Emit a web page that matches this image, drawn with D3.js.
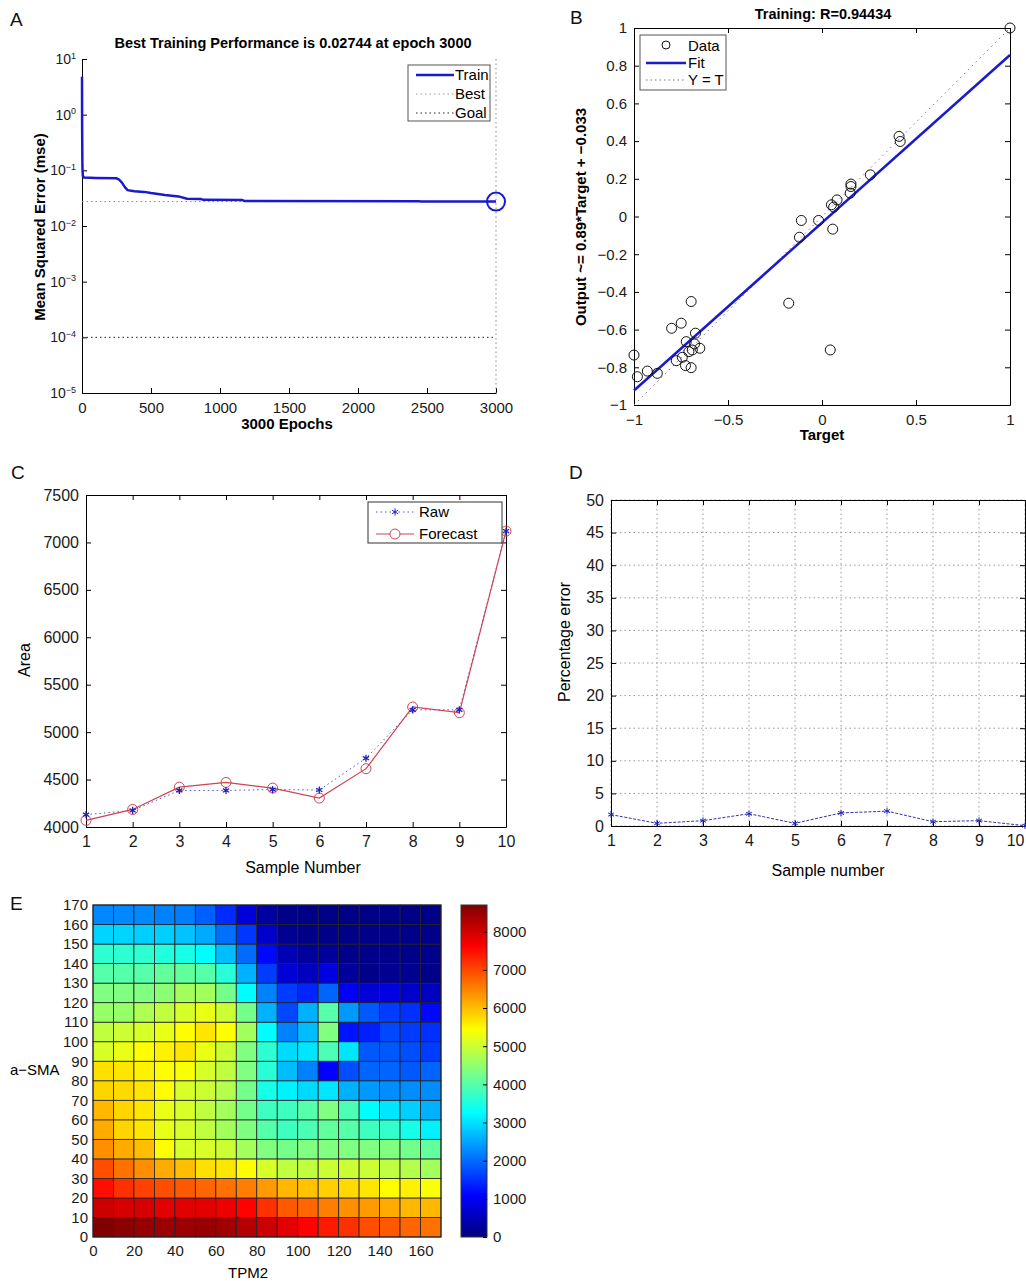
<!DOCTYPE html>
<html>
<head>
<meta charset="utf-8">
<script src="https://cdn.jsdelivr.net/npm/d3@7"></script>
<style>
body{margin:0;background:#fff;}
svg{font-family:"Liberation Sans",Arial,sans-serif;}
.tick text{font-size:15px;fill:#1a1a1a;}
.domain{stroke:#000;}
.tick line{stroke:#000;}
</style>
</head>
<body>
<svg id="fig" width="1026" height="1281"></svg>
<script>
// ---------- A: training performance ----------
const epochs   = [0, 1, 3, 6, 15, 100, 250, 270, 290, 310, 330, 380, 450, 500, 600, 700, 760, 860, 880, 1160, 1180, 2440, 2460, 3000];
const trainMse = [4.8, 0.6, 0.12, 0.08, 0.074, 0.073, 0.072, 0.068, 0.06, 0.05, 0.044, 0.042, 0.041, 0.039, 0.036, 0.034, 0.031, 0.0305, 0.0295, 0.0293, 0.028, 0.0279, 0.0275, 0.02744];
const bestMse = 0.02744, bestEpoch = 3000, goalMse = 1e-4;
const mseTicks = [1e-5, 1e-4, 1e-3, 1e-2, 1e-1, 1, 10];
const epochTicks = [0, 500, 1000, 1500, 2000, 2500, 3000];

// ---------- B: regression ----------
const regTarget = [1.0, 0.41, 0.416, 0.257, 0.154, 0.154, 0.150, 0.08, 0.05, 0.062, 0.057, -0.018, -0.11, -0.12, -0.177, 0.044,
  -0.696, -0.749, -0.80, -0.673, -0.722, -0.678, -0.65, -0.708, -0.69, -0.743, -0.775, -0.726, -0.696, -1.0, -0.982, -0.929, -0.876];
const regOutput = [1.0, 0.425, 0.398, 0.221, 0.172, 0.159, 0.124, 0.088, 0.062, 0.05, -0.067, -0.021, -0.021, -0.11, -0.46, -0.708,
  -0.451, -0.566, -0.593, -0.619, -0.664, -0.676, -0.699, -0.717, -0.708, -0.747, -0.765, -0.791, -0.802, -0.735, -0.85, -0.82, -0.832];
const fitSlope = 0.89, fitIntercept = -0.033;
const targetTicks = [-1, -0.5, 0, 0.5, 1];
const outputTicks = [-1, -0.8, -0.6, -0.4, -0.2, 0, 0.2, 0.4, 0.6, 0.8, 1];

// ---------- C / D: forecast ----------
const samples = [1, 2, 3, 4, 5, 6, 7, 8, 9, 10];
const rawArea      = [4130, 4175, 4385, 4385, 4395, 4390, 4725, 5235, 5235, 7120];
const forecastArea = [4070, 4185, 4420, 4470, 4410, 4305, 4615, 5265, 5205, 7120];
const areaTicks = [4000, 4500, 5000, 5500, 6000, 6500, 7000, 7500];
const pctError = [1.75, 0.41, 0.82, 1.88, 0.41, 2.0, 2.28, 0.66, 0.82, 0.05];
const pctTicks = [0, 5, 10, 15, 20, 25, 30, 35, 40, 45, 50];

// ---------- E: surface ----------
const tpmLevels = [0, 10, 20, 30, 40, 50, 60, 70, 80, 90, 100, 110, 120, 130, 140, 150, 160];
const smaLevels = [0, 10, 20, 30, 40, 50, 60, 70, 80, 90, 100, 110, 120, 130, 140, 150, 160];
// one row per a-SMA level (0 first), one value per TPM2 level
const heatRows = [
  [8700,8600,8500,8450,8450,8500,8400,8250,8050,7850,7600,7400,7200,6950,6850,6750,6650],
  [8050,7950,7950,7850,7850,7850,7750,7600,7200,6850,6750,6550,6400,6300,6150,6050,6050],
  [7500,7200,7050,6950,6850,6750,6650,6550,6300,6050,5950,5850,5750,5650,5450,5550,5400],
  [6950,6650,6400,6150,5980,5700,5650,5450,5100,4900,4900,5000,5000,5000,4900,4800,4650],
  [6400,6150,5980,5450,5100,5100,5000,4650,4350,4250,4350,4350,4350,4350,4350,4250,4100],
  [6150,5800,5650,5250,5100,4900,4650,4350,4000,3800,3900,4100,4000,3800,3700,3450,3150],
  [6050,5800,5650,5250,5100,4900,4650,4250,3800,3800,4000,4350,3900,3250,3050,2850,2600],
  [5800,5750,5650,5450,5100,5000,4800,4250,3450,3150,2950,3050,2600,2400,2300,2300,2300],
  [5700,5650,5550,5450,5400,5100,4900,4350,3600,2700,2200,1100,1750,1950,1950,1850,1950],
  [5100,5250,5450,5550,5650,5250,5000,4350,3650,2950,3050,3900,3050,1850,1850,1750,1600],
  [4900,5000,5100,5250,5450,5650,5450,4650,3250,2200,2700,4350,1250,1350,1700,1600,1500],
  [4550,4550,4750,4900,5100,5250,5000,4250,2600,1700,2600,4000,2400,1850,1600,1500,1150],
  [4350,4350,4350,4450,4650,4650,4250,3250,2200,1600,1400,1950,1000,750,850,650,550],
  [4000,4000,4000,4100,4100,4000,3600,2600,1600,750,550,850,250,100,150,150,100],
  [3650,3650,3650,3550,3450,3250,2700,2000,1150,450,250,250,100,100,100,100,100],
  [2900,2900,2850,2850,2750,2550,2050,1550,650,150,80,80,80,80,80,80,80],
  [2250,2250,2250,2200,2150,1900,1450,800,300,80,60,60,60,60,60,60,60]
];
const tpmTicks = [0, 20, 40, 60, 80, 100, 120, 140, 160];
const smaTicks = [0, 10, 20, 30, 40, 50, 60, 70, 80, 90, 100, 110, 120, 130, 140, 150, 160, 170];
const cbTicks = [0, 1000, 2000, 3000, 4000, 5000, 6000, 7000, 8000];
const cMax = 8700;

const svg = d3.select('#fig');
const intFmt = d3.format('d');

function panelLetter(txt, x, y) {
    svg.append('text').attr('x', x).attr('y', y).text(txt)
        .style('font-size', '19px').style('fill', '#111');
}

// matlab style box: ticks inward on all four sides, labels only bottom/left
function boxAxes(g, xScale, yScale, w, h, xTicks, yTicks, xFmt, yFmt) {
    const xa = g.append('g').attr('transform', `translate(0,${h})`)
        .call(d3.axisBottom(xScale).tickValues(xTicks).tickSize(-5).tickSizeOuter(0).tickPadding(9).tickFormat(xFmt));
    g.append('g')
        .call(d3.axisLeft(yScale).tickValues(yTicks).tickSize(-5).tickSizeOuter(0).tickPadding(7).tickFormat(yFmt));
    g.append('g')
        .call(d3.axisTop(xScale).tickValues(xTicks).tickSize(-5).tickSizeOuter(0).tickFormat(''));
    g.append('g').attr('transform', `translate(${w},0)`)
        .call(d3.axisRight(yScale).tickValues(yTicks).tickSize(-5).tickSizeOuter(0).tickFormat(''));
    return xa;
}
const minusFmt = d => String(d).replace('-', '\u2212');

// ================= A =================
{
    const left = 82, top = 59, w = 414, h = 334;
    const g = svg.append('g').attr('transform', `translate(${left},${top})`);
    const x = d3.scaleLinear().domain([0, 3000]).range([0, w]);
    const y = d3.scaleLog().domain([1e-5, 10]).range([h, 0]);

    g.append('g').attr('transform', `translate(0,${h})`)
        .call(d3.axisBottom(x).tickValues(epochTicks).tickSize(-5).tickSizeOuter(0).tickPadding(9).tickFormat(intFmt));
    const ya = g.append('g')
        .call(d3.axisLeft(y).tickValues(mseTicks).tickSize(-5).tickSizeOuter(0).tickPadding(6));
    ya.selectAll('.tick text').style('font-size', '14px').each(function (d) {
        const t = d3.select(this).text('10');
        t.append('tspan').attr('dy', '-0.6em').style('font-size', '9px').text(minusFmt(Math.round(Math.log10(d))));
    });

    // best / goal guides
    g.append('line').attr('x1', x(bestEpoch)).attr('x2', x(bestEpoch)).attr('y1', 0).attr('y2', h)
        .attr('stroke', '#888').attr('stroke-dasharray', '1.5,3');
    g.append('line').attr('x1', 0).attr('x2', w).attr('y1', y(bestMse)).attr('y2', y(bestMse))
        .attr('stroke', '#888').attr('stroke-dasharray', '1.5,3');
    g.append('line').attr('x1', 0).attr('x2', w).attr('y1', y(goalMse)).attr('y2', y(goalMse))
        .attr('stroke', '#222').attr('stroke-dasharray', '1.5,3');

    const line = d3.line().x((d, i) => x(epochs[i])).y(d => y(d));
    g.append('path').datum(trainMse).attr('d', line)
        .attr('fill', 'none').attr('stroke', '#1a1acc').attr('stroke-width', 2.5);
    g.append('circle').attr('cx', x(bestEpoch)).attr('cy', y(bestMse)).attr('r', 9)
        .attr('fill', 'none').attr('stroke', '#1a1acc').attr('stroke-width', 2);

    svg.append('text').attr('x', 293).attr('y', 48).text('Best Training Performance is 0.02744 at epoch 3000')
        .style('font-size', '14.5px').style('font-weight', 'bold').style('text-anchor', 'middle');
    svg.append('text').attr('x', 287).attr('y', 429).text('3000 Epochs')
        .style('font-size', '15px').style('font-weight', 'bold').style('text-anchor', 'middle');
    svg.append('text').attr('transform', 'translate(45,227) rotate(-90)').text('Mean Squared Error  (mse)')
        .style('font-size', '15px').style('font-weight', 'bold').style('text-anchor', 'middle');

    // legend
    const lg = svg.append('g').attr('transform', 'translate(408,65)');
    lg.append('rect').attr('width', 82).attr('height', 56).attr('fill', '#fff').attr('stroke', '#555');
    const items = [['Train', '#1a1acc', 2.5, null], ['Best', '#999', 1, '1.5,3'], ['Goal', '#222', 1, '1.5,3']];
    items.forEach((it, i) => {
        lg.append('line').attr('x1', 8).attr('x2', 46).attr('y1', 10 + i * 19).attr('y2', 10 + i * 19)
            .attr('stroke', it[1]).attr('stroke-width', it[2]).attr('stroke-dasharray', it[3]);
        lg.append('text').attr('x', 47).attr('y', 15 + i * 19).text(it[0]).style('font-size', '15px');
    });
    panelLetter('A', 10, 26);
}

// ================= B =================
{
    const left = 634, top = 28, w = 376, h = 377;
    const g = svg.append('g').attr('transform', `translate(${left},${top})`);
    const x = d3.scaleLinear().domain([-1, 1]).range([0, w]);
    const y = d3.scaleLinear().domain([-1, 1]).range([h, 0]);
    boxAxes(g, x, y, w, h, targetTicks, outputTicks, minusFmt, minusFmt);

    g.append('line').attr('x1', x(-1)).attr('y1', y(-1)).attr('x2', x(1)).attr('y2', y(1))
        .attr('stroke', '#777').attr('stroke-dasharray', '1.5,4');
    g.append('line').attr('x1', x(-1)).attr('y1', y(fitSlope * -1 + fitIntercept))
        .attr('x2', x(1)).attr('y2', y(fitSlope + fitIntercept))
        .attr('stroke', '#1a1acc').attr('stroke-width', 2.5);
    g.selectAll('.pt').data(regTarget).join('circle').attr('class', 'pt')
        .attr('cx', d => x(d)).attr('cy', (d, i) => y(regOutput[i])).attr('r', 5)
        .attr('fill', 'none').attr('stroke', '#111').attr('stroke-width', 1);

    svg.append('text').attr('x', 823).attr('y', 19).text('Training: R=0.94434')
        .style('font-size', '14.5px').style('font-weight', 'bold').style('text-anchor', 'middle');
    svg.append('text').attr('x', 822).attr('y', 440).text('Target')
        .style('font-size', '15px').style('font-weight', 'bold').style('text-anchor', 'middle');
    svg.append('text').attr('transform', 'translate(586,217) rotate(-90)').text('Output ~= 0.89*Target + \u22120.033')
        .style('font-size', '15px').style('font-weight', 'bold').style('text-anchor', 'middle');

    const lg = svg.append('g').attr('transform', 'translate(640,35)');
    lg.append('rect').attr('width', 86).attr('height', 55).attr('fill', '#fff').attr('stroke', '#555');
    lg.append('circle').attr('cx', 26).attr('cy', 10).attr('r', 4).attr('fill', 'none').attr('stroke', '#111');
    lg.append('line').attr('x1', 6).attr('x2', 46).attr('y1', 28).attr('y2', 28).attr('stroke', '#1a1acc').attr('stroke-width', 2.5);
    lg.append('line').attr('x1', 6).attr('x2', 46).attr('y1', 45).attr('y2', 45).attr('stroke', '#777').attr('stroke-dasharray', '1.5,3');
    ['Data', 'Fit', 'Y = T'].forEach((t, i) => {
        lg.append('text').attr('x', 48).attr('y', 16 + i * 17).text(t).style('font-size', '15px');
    });
    panelLetter('B', 570, 24);
}

// ================= C =================
{
    const left = 86, top = 495, w = 420, h = 332;
    const g = svg.append('g').attr('transform', `translate(${left},${top})`);
    const x = d3.scaleLinear().domain([1, 10]).range([0, w]);
    const y = d3.scaleLinear().domain([4000, 7500]).range([h, 0]);
    boxAxes(g, x, y, w, h, samples, areaTicks, intFmt, intFmt);
    g.selectAll('.tick text').style('font-size', '16px');

    const rawLine = d3.line().x((d, i) => x(samples[i])).y(d => y(d));
    g.append('path').datum(rawArea).attr('d', rawLine).attr('fill', 'none')
        .attr('stroke', '#5555cc').attr('stroke-width', 1).attr('stroke-dasharray', '1.5,3');
    g.append('path').datum(forecastArea).attr('d', rawLine).attr('fill', 'none')
        .attr('stroke', '#cc4455').attr('stroke-width', 1.2);
    g.selectAll('.fc').data(forecastArea).join('circle').attr('class', 'fc')
        .attr('cx', (d, i) => x(samples[i])).attr('cy', d => y(d)).attr('r', 5)
        .attr('fill', 'none').attr('stroke', '#cc4455').attr('stroke-width', 1);
    const star = d3.symbol(d3.symbolAsterisk, 36);
    g.selectAll('.rw').data(rawArea).join('path').attr('class', 'rw')
        .attr('transform', (d, i) => `translate(${x(samples[i])},${y(d)})`).attr('d', star)
        .attr('stroke', '#2222bb').attr('stroke-width', 1.3).attr('fill', 'none');

    svg.append('text').attr('x', 303).attr('y', 873).text('Sample Number')
        .style('font-size', '16px').style('text-anchor', 'middle');
    svg.append('text').attr('transform', 'translate(30,660) rotate(-90)').text('Area')
        .style('font-size', '16px').style('text-anchor', 'middle');

    const lg = svg.append('g').attr('transform', 'translate(368,502)');
    lg.append('rect').attr('width', 134).attr('height', 41).attr('fill', '#fff').attr('stroke', '#333');
    lg.append('line').attr('x1', 8).attr('x2', 46).attr('y1', 10).attr('y2', 10).attr('stroke', '#5555cc').attr('stroke-dasharray', '1.5,3');
    lg.append('path').attr('transform', 'translate(27,10)').attr('d', star).attr('stroke', '#2222bb').attr('fill', 'none');
    lg.append('line').attr('x1', 8).attr('x2', 46).attr('y1', 32).attr('y2', 32).attr('stroke', '#cc4455');
    lg.append('circle').attr('cx', 27).attr('cy', 32).attr('r', 5).attr('fill', '#fff').attr('stroke', '#cc4455');
    lg.append('text').attr('x', 51).attr('y', 15).text('Raw').style('font-size', '15px');
    lg.append('text').attr('x', 51).attr('y', 37).text('Forecast').style('font-size', '15px');
    panelLetter('C', 11, 479);
}

// ================= D =================
{
    const left = 611, top = 500, w = 414, h = 326;
    const g = svg.append('g').attr('transform', `translate(${left},${top})`);
    const x = d3.scaleLinear().domain([1, 10]).range([0, w]);
    const y = d3.scaleLinear().domain([0, 50]).range([h, 0]);

    // dotted grid
    g.selectAll('.gx').data(samples).join('line').attr('class', 'gx')
        .attr('x1', d => x(d)).attr('x2', d => x(d)).attr('y1', 0).attr('y2', h)
        .attr('stroke', '#999').attr('stroke-dasharray', '1.5,3');
    g.selectAll('.gy').data(pctTicks).join('line').attr('class', 'gy')
        .attr('x1', 0).attr('x2', w).attr('y1', d => y(d)).attr('y2', d => y(d))
        .attr('stroke', '#999').attr('stroke-dasharray', '1.5,3');
    const xa = boxAxes(g, x, y, w, h, samples, pctTicks, intFmt, intFmt);
    g.selectAll('.tick text').style('font-size', '16px');
    // last label sits on the page edge, keep it inside
    xa.selectAll('.tick text').filter(d => d === samples[samples.length - 1])
        .style('text-anchor', 'end').attr('dx', -1);

    const line = d3.line().x((d, i) => x(samples[i])).y(d => y(d));
    g.append('path').datum(pctError).attr('d', line).attr('fill', 'none')
        .attr('stroke', '#3333aa').attr('stroke-width', 1).attr('stroke-dasharray', '3,1.5');
    g.selectAll('.pe').data(pctError).join('path').attr('class', 'pe')
        .attr('transform', (d, i) => `translate(${x(samples[i])},${y(d)})`)
        .attr('d', d3.symbol(d3.symbolAsterisk, 30)).attr('stroke', '#2222bb').attr('fill', 'none');

    svg.append('text').attr('x', 828).attr('y', 876).text('Sample number')
        .style('font-size', '16px').style('text-anchor', 'middle');
    svg.append('text').attr('transform', 'translate(570,642) rotate(-90)').text('Percentage error')
        .style('font-size', '16px').style('text-anchor', 'middle');
    panelLetter('D', 569, 479);
}

// ================= E =================
{
    const left = 93, top = 905, w = 348, h = 332;
    const g = svg.append('g').attr('transform', `translate(${left},${top})`);
    const x = d3.scaleLinear().domain([0, 170]).range([0, w]);
    const y = d3.scaleLinear().domain([0, 170]).range([h, 0]);
    const jet = d3.scaleLinear()
        .domain([0, 0.125, 0.375, 0.625, 0.875, 1].map(t => t * cMax))
        .range(['#00007f', '#0000ff', '#00ffff', '#ffff00', '#ff0000', '#7f0000'])
        .clamp(true);
    const step = tpmLevels[1] - tpmLevels[0];

    const cells = [];
    heatRows.forEach((row, r) => row.forEach((v, c) => cells.push({ tpm: tpmLevels[c], sma: smaLevels[r], v })));
    g.selectAll('.cell').data(cells).join('rect').attr('class', 'cell')
        .attr('x', d => x(d.tpm)).attr('y', d => y(d.sma + step))
        .attr('width', x(step) - x(0)).attr('height', y(0) - y(step))
        .attr('fill', d => jet(d.v)).attr('stroke', '#222').attr('stroke-width', 0.8);

    g.append('g').attr('transform', `translate(0,${h})`)
        .call(d3.axisBottom(x).tickValues(tpmTicks).tickSize(0).tickPadding(8))
        .select('.domain').remove();
    g.append('g')
        .call(d3.axisLeft(y).tickValues(smaTicks).tickSize(0).tickPadding(5))
        .select('.domain').remove();
    g.append('rect').attr('width', w).attr('height', h).attr('fill', 'none').attr('stroke', '#222');

    // colorbar
    const cb = svg.append('g').attr('transform', `translate(461,${top})`);
    const grad = svg.append('defs').append('linearGradient').attr('id', 'jetgrad')
        .attr('x1', 0).attr('y1', 1).attr('x2', 0).attr('y2', 0);
    grad.selectAll('stop').data(jet.domain()).join('stop')
        .attr('offset', d => d / cMax).attr('stop-color', d => jet(d));
    cb.append('rect').attr('width', 26).attr('height', h).attr('fill', 'url(#jetgrad)').attr('stroke', '#333');
    const cy = d3.scaleLinear().domain([0, cMax]).range([h, 0]);
    cb.append('g').attr('transform', 'translate(26,0)')
        .call(d3.axisRight(cy).tickValues(cbTicks).tickSize(-4).tickSizeOuter(0).tickPadding(6).tickFormat(intFmt))
        .select('.domain').remove();

    svg.append('text').attr('x', 10).attr('y', 1075).text('a\u2212SMA').style('font-size', '15px');
    svg.append('text').attr('x', 248).attr('y', 1278).text('TPM2')
        .style('font-size', '15px').style('text-anchor', 'middle');
    panelLetter('E', 10, 910);
}
</script>
</body>
</html>
